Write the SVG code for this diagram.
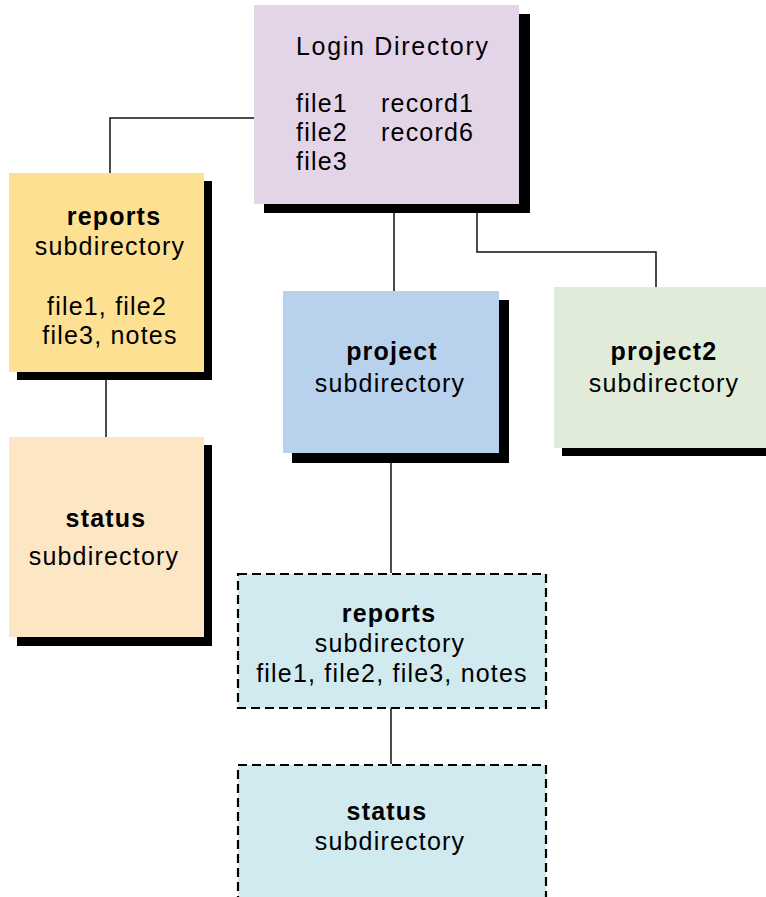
<svg xmlns="http://www.w3.org/2000/svg" width="766" height="897" viewBox="0 0 766 897">
<style>
text{font-family:"Liberation Sans",Arial,sans-serif;font-size:25px;letter-spacing:1.2px;fill:#000}
.b{font-weight:bold}
.m{text-anchor:middle}
.w{letter-spacing:1.7px}
.sh{fill:#000}
.ln{stroke:#111;stroke-width:1.5;fill:none}
.dash{stroke:#000;stroke-width:2.2;stroke-dasharray:9 5}
</style>
<rect width="766" height="897" fill="#fff"/>
<g id="connectors">
<polyline class="ln" points="254,118 110,118 110,173"/>
<line class="ln" x1="394" y1="213" x2="394" y2="291"/>
<polyline class="ln" points="477,213 477,252 656,252 656,287"/>
<line class="ln" x1="106" y1="380" x2="106" y2="437"/>
<line class="ln" x1="391" y1="462" x2="391" y2="573"/>
<line class="ln" x1="391" y1="708" x2="391" y2="764"/>
</g>
<g id="login">
<rect class="sh" x="264" y="14" width="266" height="199"/>
<rect x="254" y="5" width="265" height="199" fill="#E4D4E8"/>
<text class="w" x="296" y="55">Login Directory</text>
<text x="296" y="112">file1</text>
<text x="381" y="112">record1</text>
<text x="296" y="141">file2</text>
<text x="381" y="141">record6</text>
<text x="296" y="170">file3</text>
</g>
<g id="reports">
<rect class="sh" x="17" y="181" width="195" height="199"/>
<rect x="9" y="173" width="195" height="199" fill="#FDE091"/>
<text class="b m" x="114" y="225">reports</text>
<text class="m" x="110" y="255">subdirectory</text>
<text class="m" x="107" y="315">file1, file2</text>
<text class="m" x="110" y="344">file3, notes</text>
</g>
<g id="status">
<rect class="sh" x="17" y="445" width="195" height="201"/>
<rect x="9" y="437" width="195" height="200" fill="#FDE6C3"/>
<text class="b m" x="106" y="527">status</text>
<text class="m" x="104" y="565">subdirectory</text>
</g>
<g id="project">
<rect class="sh" x="292" y="300" width="217" height="163"/>
<rect x="283" y="291" width="216" height="162" fill="#B8D1ED"/>
<text class="b m" x="392" y="360">project</text>
<text class="m" x="390" y="392">subdirectory</text>
</g>
<g id="project2">
<rect class="sh" x="562" y="295" width="220" height="161"/>
<rect x="554" y="287" width="220" height="161" fill="#E0ECD9"/>
<text class="b m" x="664" y="360">project2</text>
<text class="m" x="664" y="392">subdirectory</text>
</g>
<g id="reports2">
<rect class="dash" x="238" y="574" width="308" height="134" fill="#D1EAF0"/>
<text class="b m" x="389" y="622">reports</text>
<text class="m" x="390" y="652">subdirectory</text>
<text class="m" x="392" y="682">file1, file2, file3, notes</text>
</g>
<g id="status2">
<rect class="dash" x="238" y="765" width="308" height="140" fill="#D1EAF0"/>
<text class="b m" x="387" y="820">status</text>
<text class="m" x="390" y="850">subdirectory</text>
</g>
</svg>
